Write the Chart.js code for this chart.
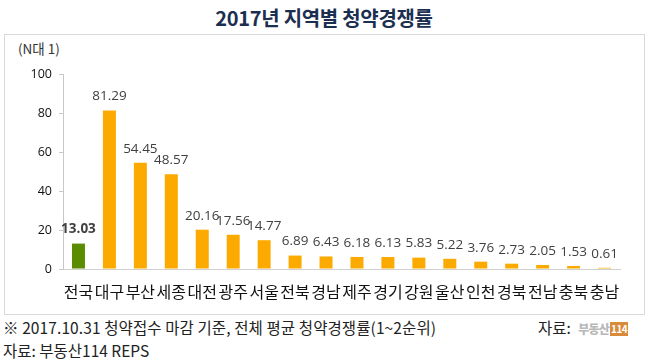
<!DOCTYPE html>
<html><head><meta charset="utf-8">
<script src="https://cdn.jsdelivr.net/npm/chart.js@4"></script>
<style>
html,body{margin:0;padding:0;background:#fff;width:648px;height:363px;overflow:hidden;font-family:"Noto Sans CJK KR","Noto Sans",sans-serif;}
#title{position:absolute;left:0;top:3px;width:648px;text-align:center;font-weight:bold;font-size:20px;color:#1b2f50;letter-spacing:-0.3px;}
#box{position:absolute;left:4px;top:34px;width:639px;height:279px;border:1px solid #d9d9d9;}
#unit{position:absolute;left:18px;top:38px;font-size:13.5px;color:#333;}
#note1{position:absolute;left:3px;top:316px;font-size:15.5px;color:#222;white-space:nowrap;letter-spacing:0.1px;}
#note2{position:absolute;left:3px;top:339px;font-size:15.5px;color:#222;white-space:nowrap;}
#src{position:absolute;left:538px;top:316px;font-size:15.5px;color:#222;white-space:nowrap;}
#src .logo{color:#b8b8b8;font-weight:900;font-size:12px;letter-spacing:-0.8px;margin-left:4px;}
#src .num{display:inline-block;background:#d98a3a;color:#fff;font-weight:bold;font-size:10px;padding:0 1px;margin-left:1px;line-height:14px;vertical-align:1px;letter-spacing:-0.5px;}
#wrap{position:absolute;left:0;top:0;width:648px;height:363px;}
</style></head>
<body>
<div id="title">2017년 지역별 청약경쟁률</div>
<div id="box"></div>
<div id="unit">(N대 1)</div>
<div id="note1">※ 2017.10.31 청약접수 마감 기준, 전체 평균 청약경쟁률(1~2순위)</div>
<div id="note2">자료: 부동산114 REPS</div>
<div id="src">자료: <span class="logo">부동산</span><span class="num">114</span></div>
<div id="wrap"><canvas id="c" width="648" height="363"></canvas></div>
<script>
const regions = ["전국","대구","부산","세종","대전","광주","서울","전북","경남","제주","경기","강원","울산","인천","경북","전남","충북","충남"];
const rates = [13.03,81.29,54.45,48.57,20.16,17.56,14.77,6.89,6.43,6.18,6.13,5.83,5.22,3.76,2.73,2.05,1.53,0.61];
const yTicks = [0,20,40,60,80,100];
const barColors = regions.map((r,i)=> i===0 ? '#5b8c00' : '#fdaa00');

const labelPlugin = {
  id:'valueLabels',
  afterDatasetsDraw(chart){
    const ctx = chart.ctx;
    const meta = chart.getDatasetMeta(0);
    ctx.save();
    ctx.textAlign='center';
    ctx.textBaseline='middle';
    meta.data.forEach((bar,i)=>{
      ctx.font = (i===0?'bold ':'') + '13.5px "Open Sans", sans-serif';
      ctx.fillStyle = '#404040';
      ctx.fillText(rates[i].toFixed(2), bar.x, bar.y - 14);
    });
    ctx.restore();
  }
};

new Chart(document.getElementById('c'),{
  type:'bar',
  data:{labels:regions,datasets:[{data:rates,backgroundColor:barColors,borderWidth:0,barPercentage:0.42,categoryPercentage:1}]},
  options:{
    responsive:false,animation:false,
    layout:{padding:{left:0,right:28,top:74,bottom:0}},
    plugins:{legend:{display:false},tooltip:{enabled:false}},
    scales:{
      x:{
        grid:{display:false,drawTicks:false},
        border:{display:true,color:'#d0d0d0'},
        ticks:{padding:13,color:'#111',font:{family:'"Noto Sans CJK KR"',size:16},maxRotation:0,autoSkip:false},
        afterFit(s){s.height=94;}
      },
      y:{
        min:0,max:100,
        afterBuildTicks(s){s.ticks=yTicks.map(v=>({value:v}));},
        grid:{drawOnChartArea:false,drawTicks:true,tickLength:4,color:'#c8c8c8'},
        border:{display:true,color:'#c8c8c8'},
        ticks:{padding:7,color:'#111',font:{family:'"Open Sans"',size:12.5}},
        afterFit(s){s.width=63;}
      }
    }
  },
  plugins:[labelPlugin]
});
</script>
</body></html>
